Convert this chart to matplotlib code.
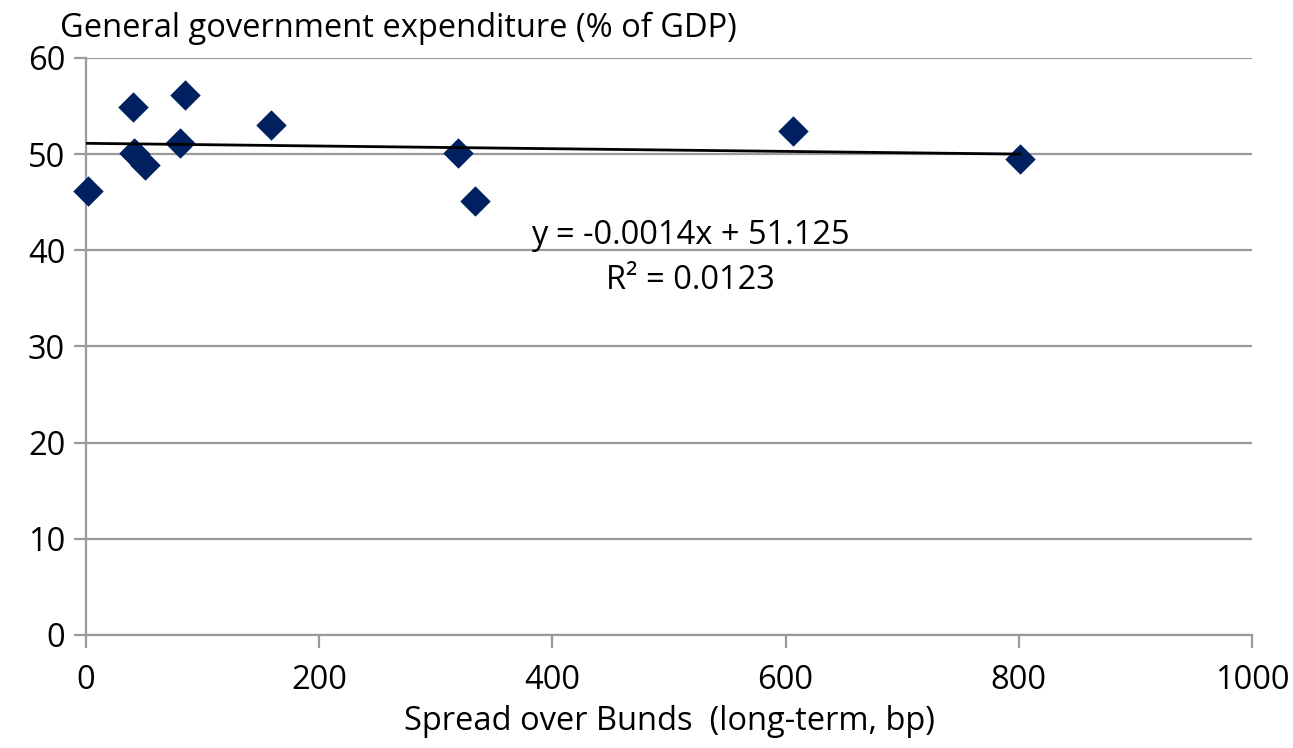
import matplotlib
matplotlib.use("Agg")
import matplotlib.pyplot as plt
import numpy as np

plt.rcParams['font.family'] = ['Open Sans', 'DejaVu Sans']

# Spread over Bunds (bp) vs general government expenditure (% of GDP)
spread = [2, 40, 41, 42, 51, 81, 85, 159, 319, 334, 606, 801]
expenditure = [46.2, 54.9, 50.1, 50.0, 48.9, 51.2, 56.2, 53.0, 50.1, 45.1, 52.4, 49.5]

# linear trend as reported on the chart
slope = -0.0014
intercept = 51.125
r_squared = 0.0123

x_ticks = [0, 200, 400, 600, 800, 1000]
y_ticks = [0, 10, 20, 30, 40, 50, 60]

grey = '#9a9a9a'
navy = '#002060'
fs = 23.5

fig = plt.figure(figsize=(12.93, 7.48), dpi=100)
ax = fig.add_axes([0.0665, 0.1511, 0.9018, 0.7714])

ax.set_xlim(0, 1000)
ax.set_ylim(0, 60)
ax.set_xticks(x_ticks)
ax.set_yticks(y_ticks)

ax.grid(axis='y', color=grey, linewidth=1.6)
ax.set_axisbelow(True)
for side in ['top', 'right']:
    ax.spines[side].set_visible(False)
for side in ['left', 'bottom']:
    ax.spines[side].set_color(grey)
    ax.spines[side].set_linewidth(1.6)
ax.tick_params(axis='both', colors=grey, width=1.6, length=9, labelsize=fs,
               labelcolor='black')
ax.tick_params(axis='x', pad=12)
ax.tick_params(axis='y', pad=6)

ax.scatter(spread, expenditure, marker='D', s=240, color=navy, zorder=3,
           linewidths=0, clip_on=False)

xs = np.array([0, max(spread)])
ax.plot(xs, slope * xs + intercept, color='black', linewidth=2, zorder=4)

ax.text(518, 41.5, f"y = {slope}x + {intercept}", ha='center', va='center',
        fontsize=fs)
ax.text(518, 36.9, f"R² = {r_squared}", ha='center', va='center', fontsize=fs)

fig.text(60 / 1293, 1 - 28 / 748, "General government expenditure (% of GDP)",
         ha='left', va='center', fontsize=fs)
ax.set_xlabel("Spread over Bunds  (long-term, bp)", fontsize=fs, labelpad=6)

fig.savefig("out.png", dpi=100)
